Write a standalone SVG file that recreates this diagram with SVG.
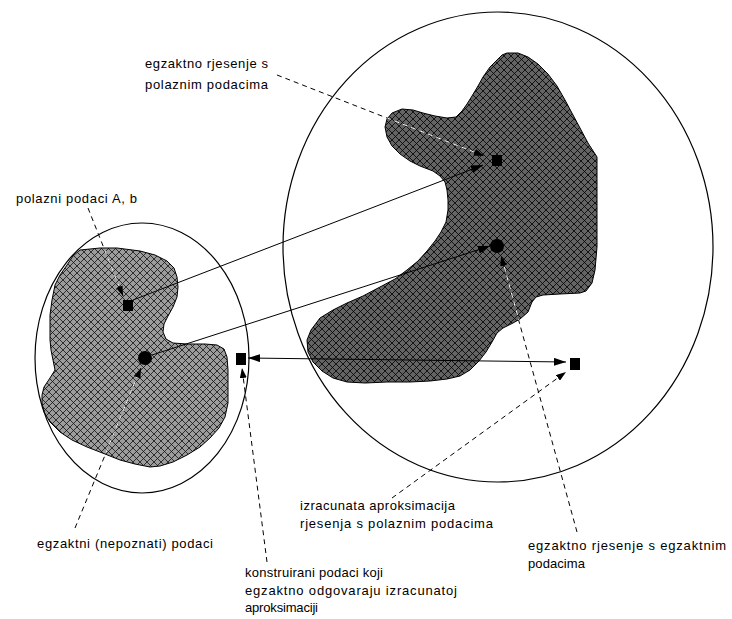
<svg xmlns="http://www.w3.org/2000/svg" xmlns:xlink="http://www.w3.org/1999/xlink" width="732" height="619" viewBox="0 0 732 619">
<style>
.lbl{font-family:"Liberation Sans",Arial,sans-serif;font-size:13px;fill:#000}
.sol{stroke:#000;stroke-width:1;fill:none}
.dsh{stroke:#000;stroke-width:1;fill:none;stroke-dasharray:5,4}
.dshw{stroke:#fff;stroke-width:1;fill:none;stroke-dasharray:5,4}
.ring{stroke:#000;stroke-width:1.2;fill:none}
.pt{fill:#000}
</style>
<defs>
<pattern id="hatchL" patternUnits="userSpaceOnUse" width="7" height="7">
<rect width="7" height="7" fill="#9c9c9c"/>
<path d="M-1,-1 L8,8 M8,-1 L-1,8" stroke="#111" stroke-width="0.8"/>
</pattern>
<pattern id="hatchR" patternUnits="userSpaceOnUse" width="7" height="7">
<rect width="7" height="7" fill="#646464"/>
<path d="M-1,-1 L8,8 M8,-1 L-1,8" stroke="#000" stroke-width="0.8"/>
</pattern>
<path id="blobL" d="M80,250 L100,248 117,248 140,251 155,255 167,261 174,268 177,277 178,287 177,297 173,307 168,316 164,324 163,332 166,339 173,343 187,344 205,344 217,345 224,349 227,357 228,370 228,390 228,403 225,417 219,428 210,438 200,447 187,455 173,462 160,466 150,467 135,464 120,460 105,454 87,447 72,440 60,432 50,422 44,412 42,403 42,395 44,387 50,378 55,370 53,360 51,350 50,340 50,330 50,315 52,300 55,285 60,275 67,265 73,256 Z"/>
<path id="blobR" d="M507,53 L518,53 528,57 538,64 548,74 557,86 565,100 573,115 580,128 588,143 597,157 L597,180 597,247 595,270 592,283 586,291 580,293 560,294 543,295 536,297 532,302 528,312 520,319 513,323 503,328 497,333 492,342 486,352 479,361 470,370 460,376 447,379 430,381 410,382 387,382 365,383 347,382 333,378 322,371 313,362 308,352 307,340 311,330 320,318 333,310 347,303 363,296 380,287 395,279 407,270 418,261 427,251 435,241 441,232 446,222 448,210 448,200 447,190 445,182 440,176 433,171 420,166 410,161 400,154 392,146 387,137 385,127 387,119 392,113 402,109 413,110 423,113 435,116 447,118 456,117 462,111 467,104 472,96 478,86 483,77 490,67 497,60 502,55 Z"/>
<clipPath id="inBlobs">
<use xlink:href="#blobL"/>
<use xlink:href="#blobR"/>
</clipPath>
<marker id="ah" viewBox="0 0 12 8" refX="12" refY="4" markerWidth="12" markerHeight="8" markerUnits="userSpaceOnUse" orient="auto-start-reverse">
<path d="M0,0 L12,4 L0,8 Z" fill="#000"/>
</marker>
<marker id="ahd" viewBox="0 0 10 7" refX="10" refY="3.5" markerWidth="10" markerHeight="7" markerUnits="userSpaceOnUse" orient="auto">
<path d="M0,0 L10,3.5 L0,7 Z" fill="#000"/>
</marker>
</defs>
<rect width="732" height="619" fill="#fff"/>

<g id="region-left">
<use xlink:href="#blobL" fill="url(#hatchL)" stroke="#000" stroke-width="1"/>
<ellipse class="ring" cx="142" cy="358" rx="107" ry="135"/>
</g>
<g id="region-right">
<use xlink:href="#blobR" fill="url(#hatchR)" stroke="#000" stroke-width="1"/>
<ellipse class="ring" cx="498" cy="247" rx="215" ry="235"/>
</g>

<g id="connectors">
<line class="sol" x1="133" y1="300" x2="483" y2="165" marker-end="url(#ah)"/>
<line class="sol" x1="152" y1="355" x2="490" y2="246" marker-end="url(#ah)"/>
<line class="sol" x1="248" y1="358" x2="566" y2="362" marker-start="url(#ah)" marker-end="url(#ah)"/>

<line class="dsh" x1="277" y1="75" x2="484" y2="156" marker-end="url(#ahd)"/>
<line class="dsh" x1="88" y1="208" x2="123" y2="296" marker-end="url(#ahd)"/>
<line class="dsh" x1="75" y1="528" x2="141" y2="368" marker-end="url(#ahd)"/>
<line class="dsh" x1="267" y1="562" x2="242" y2="368" marker-end="url(#ahd)"/>
<line class="dsh" x1="392" y1="498" x2="566" y2="372" marker-end="url(#ahd)"/>
<line class="dsh" x1="577" y1="532" x2="501" y2="256" marker-end="url(#ahd)"/>
<g clip-path="url(#inBlobs)">
<line class="dshw" x1="277" y1="75" x2="474" y2="152"/>
<line class="dshw" x1="88" y1="208" x2="119" y2="286"/>
<line class="dshw" x1="75" y1="528" x2="137" y2="377"/>
<line class="dshw" x1="577" y1="532" x2="504" y2="266"/>
</g>
</g>

<g id="points">
<rect id="p-start-data" class="pt" x="123" y="300" width="10" height="11"/>
<circle id="p-exact-data" class="pt" cx="145" cy="358" r="7"/>
<rect id="p-constructed" class="pt" x="236" y="353" width="10" height="12"/>
<rect id="p-exact-sol-start" class="pt" x="492" y="155" width="10" height="11"/>
<circle id="p-exact-sol-exact" class="pt" cx="497" cy="246" r="7"/>
<rect id="p-approx" class="pt" x="570" y="358" width="10" height="12"/>
</g>

<g id="labels">
<g id="lbl-exact-sol-start">
<text class="lbl" x="145" y="68" textLength="123" lengthAdjust="spacing">egzaktno rjesenje s</text>
<text class="lbl" x="145" y="89" textLength="123" lengthAdjust="spacing">polaznim podacima</text>
</g>
<g id="lbl-start-data">
<text class="lbl" x="16" y="203" textLength="121" lengthAdjust="spacing">polazni podaci A, b</text>
</g>
<g id="lbl-exact-data">
<text class="lbl" x="37" y="548" textLength="176" lengthAdjust="spacing">egzaktni (nepoznati) podaci</text>
</g>
<g id="lbl-constructed">
<text class="lbl" x="245" y="577" textLength="138" lengthAdjust="spacing">konstruirani podaci koji</text>
<text class="lbl" x="245" y="595" textLength="212" lengthAdjust="spacing">egzaktno odgovaraju izracunatoj</text>
<text class="lbl" x="245" y="612" textLength="73" lengthAdjust="spacing">aproksimaciji</text>
</g>
<g id="lbl-approx">
<text class="lbl" x="300" y="510" textLength="155" lengthAdjust="spacing">izracunata aproksimacija</text>
<text class="lbl" x="300" y="528" textLength="193" lengthAdjust="spacing">rjesenja s polaznim podacima</text>
</g>
<g id="lbl-exact-sol-exact">
<text class="lbl" x="528" y="550" textLength="198" lengthAdjust="spacing">egzaktno rjesenje s egzaktnim</text>
<text class="lbl" x="528" y="568" textLength="57" lengthAdjust="spacing">podacima</text>
</g>
</g>
</svg>
